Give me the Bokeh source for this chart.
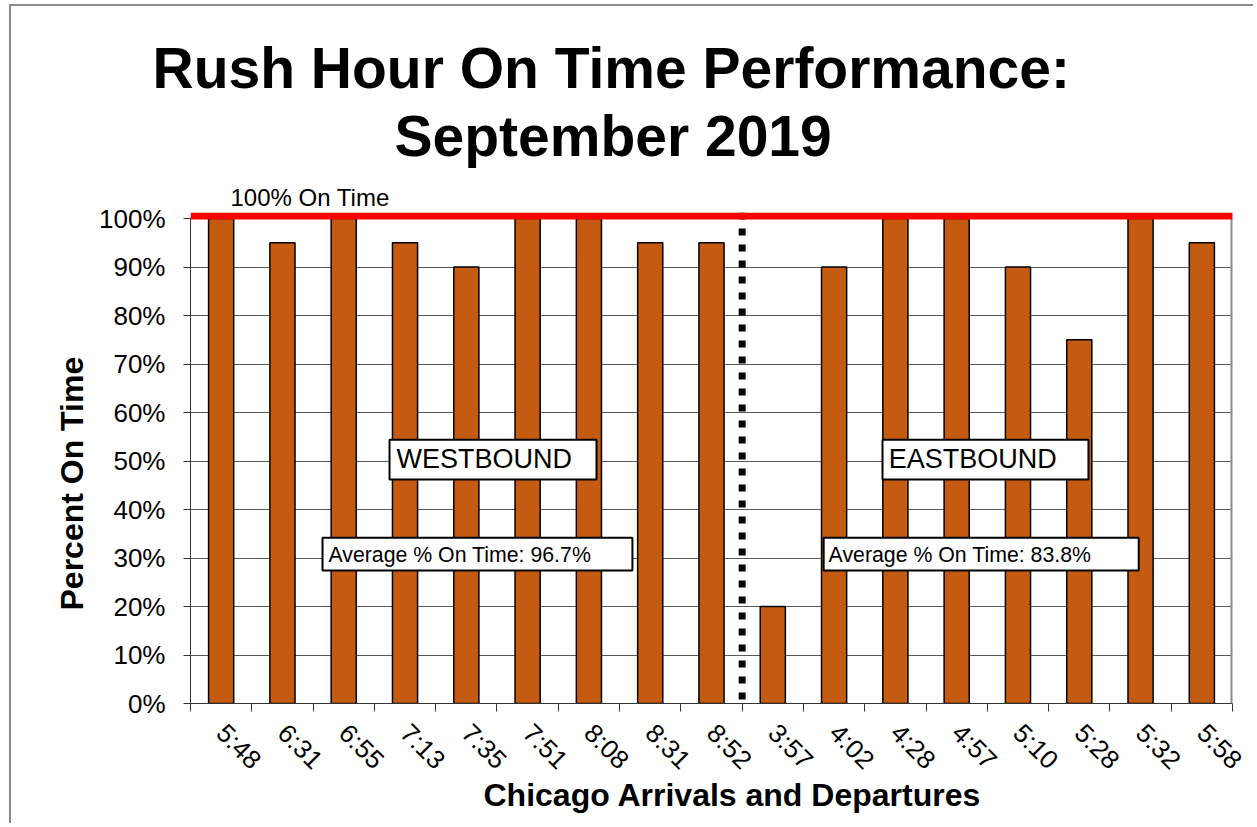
import numpy as np
from bokeh.plotting import figure
from bokeh.models import (ColumnDataSource, FixedTicker, Span, Label, Title,
                          BoxAnnotation, NumeralTickFormatter, Range1d)
from bokeh.embed import file_html
from bokeh.resources import INLINE

# ---- data ----
west_times = ["5:48", "6:31", "6:55", "7:13", "7:35", "7:51", "8:08", "8:31", "8:52"]
west_pct = [100, 95, 100, 95, 90, 100, 100, 95, 95]
east_times = ["3:57", "4:02", "4:28", "4:57", "5:10", "5:28", "5:32", "5:58"]
east_pct = [20, 90, 100, 100, 90, 75, 100, 95]
y_tick_values = [0, 10, 20, 30, 40, 50, 60, 70, 80, 90, 100]
target_pct = 100

west_avg = sum(west_pct) / len(west_pct)
east_avg = sum(east_pct) / len(east_pct)

times = west_times + east_times
pct = [v / 100 for v in west_pct + east_pct]
n = len(times)
xs = [i + 0.5 for i in range(n)]

FONT = "Liberation Sans"
BAR = "#C55A11"
GRAY = "#8c8c8c"

src = ColumnDataSource(dict(x=xs, top=pct, label=times))

p = figure(width=1244, height=819, x_range=Range1d(0, n), y_range=Range1d(0, 1.0124),
           output_backend="svg", toolbar_location=None,
           min_border_left=179, min_border_right=23,
           min_border_top=206, min_border_bottom=122,
           background_fill_color="white", border_fill_color="white")
p.title.visible = False
p.styles = {"margin-left": "9px", "margin-top": "4px",
            "border-left": f"2px solid {GRAY}", "border-top": f"2px solid {GRAY}"}

p.outline_line_color = None

# grid
p.xgrid.visible = False
p.ygrid.ticker = FixedTicker(ticks=[v / 100 for v in y_tick_values])
p.ygrid.grid_line_color = "#595959"
p.ygrid.grid_line_width = 1

# y axis
p.yaxis.ticker = FixedTicker(ticks=[v / 100 for v in y_tick_values])
p.yaxis.formatter = NumeralTickFormatter(format="0%")
p.yaxis.bounds = (0, 1)
p.yaxis.major_label_text_font = FONT
p.yaxis.major_label_text_font_size = "26px"
p.yaxis.major_label_text_color = "black"
p.yaxis.major_tick_out = 7
p.yaxis.major_tick_in = 0
p.yaxis.minor_tick_line_color = None
p.yaxis.major_label_standoff = 18
p.yaxis.axis_line_color = "#333333"
p.yaxis.major_tick_line_color = "#333333"

# x axis: labels at centres, ticks at category boundaries
p.xaxis.ticker = FixedTicker(ticks=xs, minor_ticks=list(range(n + 1)))
p.xaxis.major_label_overrides = {float(x): t for x, t in zip(xs, times)}
p.xaxis.major_tick_line_color = None
p.xaxis.major_tick_out = 8
p.xaxis.minor_tick_out = 8
p.xaxis.minor_tick_in = 0
p.xaxis.minor_tick_line_color = "#333333"
p.xaxis.axis_line_color = "#333333"
p.xaxis.major_label_orientation = -np.pi / 4
p.xaxis.major_label_text_font = FONT
p.xaxis.major_label_text_font_size = "26px"
p.xaxis.major_label_text_color = "black"
p.xaxis.major_label_standoff = 17

# bars
p.vbar(x="x", top="top", bottom=0, width=0.41, source=src,
       fill_color=BAR, line_color="black", line_width=1.5)

# right border of the plot area
p.add_layout(Span(location=n, dimension="height", line_color=GRAY, line_width=4))

# divider between westbound and eastbound
p.add_layout(Span(location=len(west_times), dimension="height",
                  line_color="black", line_width=7, line_dash="7 9"))

# 100% line
p.add_layout(Span(location=target_pct / 100 + 0.005, dimension="width",
                  line_color="#FF0000", line_width=7))

# text boxes
def box(left, right, bottom, top, tx, ty, text, size):
    p.add_layout(BoxAnnotation(left=left, right=right, bottom=bottom, top=top,
                               fill_color="white", fill_alpha=1.0,
                               line_color="black", line_width=2, line_alpha=1.0))
    p.add_layout(Label(x=tx, y=ty, text=text, text_font=FONT,
                       text_font_size=size, text_color="black",
                       text_baseline="middle", text_align="left"))

box(3.247, 6.624, 0.462, 0.544, 3.36, 0.505, "WESTBOUND", "27px")
box(11.29, 14.65, 0.462, 0.544, 11.39, 0.505, "EASTBOUND", "27px")
box(2.154, 7.21, 0.274, 0.342, 2.25, 0.306,
    f"Average % On Time: {west_avg:.1f}%", "21.3px")
box(10.33, 15.47, 0.274, 0.342, 10.41, 0.306,
    "Average % On Time: 83.8%", "21.3px")

# titles (closest to the frame first)
p.add_layout(Title(text="100% On Time", align="left", offset=40, standoff=4,
                   text_font=FONT, text_font_size="24px", text_font_style="normal",
                   text_color="black"), "above")
p.add_layout(Title(text="September 2019", align="left", offset=204, standoff=24,
                   text_font=FONT, text_font_size="57px", text_font_style="bold",
                   text_color="black"), "above")
p.add_layout(Title(text="Rush Hour On Time Performance:", align="left", offset=-38,
                   standoff=-21, text_font=FONT, text_font_size="57px",
                   text_font_style="bold", text_color="black"), "above")

# axis titles
p.add_layout(Title(text="Chicago Arrivals and Departures", align="left", offset=293,
                   standoff=-24, vertical_align="top", text_font=FONT,
                   text_font_size="32px", text_font_style="bold",
                   text_color="black"), "below")
p.add_layout(Title(text="Percent On Time", align="left", offset=93, standoff=13,
                   text_font=FONT, text_font_size="32px",
                   text_font_style="bold", text_color="black"), "left")

open("out.html", "w").write(file_html(p, INLINE))
